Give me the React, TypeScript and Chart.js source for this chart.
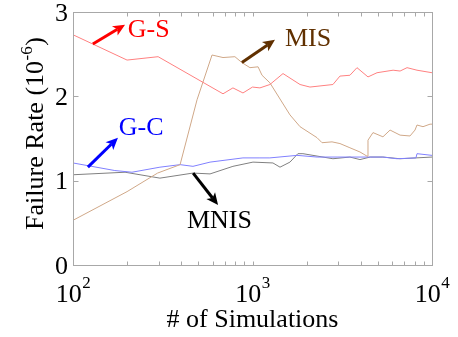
import React, { useEffect, useRef } from "react";
import { Chart, registerables } from "chart.js";

Chart.register(...registerables);

// ---- Data ----
const gsX = [100, 200, 298, 685, 778, 885, 1000, 1100, 1250, 1479, 1840, 2090, 2806, 3070, 3490, 3820, 4400, 4940, 6070, 6640, 7260, 8250, 10000];
const gsY = [2.73, 2.43, 2.47, 2.03, 2.10, 2.04, 2.11, 2.10, 2.14, 2.27, 2.14, 2.11, 2.14, 2.24, 2.25, 2.34, 2.23, 2.28, 2.31, 2.30, 2.34, 2.31, 2.28];

const misX = [100, 200, 296, 395, 491, 595, 685, 798, 873, 968, 1074, 1130, 1250, 1617, 1840, 2288, 2440, 2773, 3070, 3490, 3970, 4350, 4400, 4690, 5330, 5840, 6640, 7540, 8040, 8250, 8910, 9750, 10000];
const misY = [0.53, 0.87, 1.09, 1.19, 1.96, 2.49, 2.46, 2.47, 2.40, 2.34, 2.35, 2.25, 2.16, 1.78, 1.64, 1.51, 1.45, 1.46, 1.44, 1.39, 1.34, 1.29, 1.48, 1.57, 1.52, 1.60, 1.54, 1.53, 1.60, 1.66, 1.64, 1.67, 1.67];

const gcX = [100, 171, 213, 305, 395, 466, 580, 885, 1100, 1250, 1770, 2290, 2960, 3490, 5330, 6380, 8140, 8250, 10000];
const gcY = [1.21, 1.12, 1.10, 1.16, 1.19, 1.17, 1.22, 1.27, 1.27, 1.27, 1.30, 1.28, 1.28, 1.28, 1.28, 1.26, 1.27, 1.32, 1.30];

const mnisX = [100, 195, 305, 466, 580, 778, 1006, 1300, 1423, 1617, 1790, 1910, 2806, 3490, 3970, 4520, 5330, 6640, 10000];
const mnisY = [1.07, 1.10, 1.03, 1.09, 1.08, 1.17, 1.22, 1.21, 1.16, 1.22, 1.32, 1.32, 1.26, 1.28, 1.25, 1.28, 1.28, 1.26, 1.28];

const seriesNames = ["G-S", "MIS", "G-C", "MNIS"];
const lineColors = ["#ff8080", "#d0a888", "#8080ff", "#808080"];
const labelColors = ["#ff0000", "#603000", "#0000ff", "#000000"];

// annotation text anchors (data coords: left, baseline)
const labelX = [202, 1517, 180, 431];
const labelY = [2.70, 2.60, 1.54, 0.44];
// arrows (data coords)
const arrowFromX = [129, 873, 121, 467];
const arrowFromY = [2.62, 2.40, 1.16, 1.09];
const arrowToX = [195, 1334, 178, 643];
const arrowToY = [2.85, 2.67, 1.51, 0.71];

const yTicks = [0, 1, 2, 3];
const xMajor = [100, 1000, 10000];
const xMajorExp = ["2", "3", "4"];
const xMinor = [200, 300, 400, 500, 600, 700, 800, 900, 2000, 3000, 4000, 5000, 6000, 7000, 8000, 9000];

const xTitle = "# of Simulations";
const yTitleMain = "Failure Rate (10";
const yTitleSup = "-6";
const yTitleEnd = ")";

const FONT = '"Liberation Serif"';

function toPts(xs: number[], ys: number[]) {
  return xs.map((x, i) => ({ x, y: ys[i] }));
}

const decorPlugin = {
  id: "decor",
  afterDraw(chart: any) {
    const ctx = chart.ctx as CanvasRenderingContext2D;
    const xs = chart.scales.x;
    const ys = chart.scales.y;
    const a = chart.chartArea;
    const L = Math.round(a.left) + 0.5;
    const R = Math.round(a.right) + 0.5;
    const T = Math.round(a.top) + 0.5;
    const B = Math.round(a.bottom) + 0.5;
    ctx.save();
    // frame
    ctx.strokeStyle = "#a8a8a8";
    ctx.lineWidth = 1;
    ctx.strokeRect(L, T, R - L, B - T);
    // x ticks
    ctx.beginPath();
    [...xMajor, ...xMinor].forEach((v) => {
      const px = Math.round(xs.getPixelForValue(v)) + 0.5;
      ctx.moveTo(px, B);
      ctx.lineTo(px, B - 4);
      ctx.moveTo(px, T);
      ctx.lineTo(px, T + 4);
    });
    yTicks.forEach((v) => {
      const py = Math.round(ys.getPixelForValue(v)) + 0.5;
      ctx.moveTo(L, py);
      ctx.lineTo(L + 5, py);
      ctx.moveTo(R, py);
      ctx.lineTo(R - 5, py);
    });
    ctx.stroke();

    ctx.fillStyle = "#000";
    // y tick labels
    ctx.font = `26px ${FONT}`;
    ctx.textAlign = "right";
    ctx.textBaseline = "middle";
    yTicks.forEach((v) => {
      const py = ys.getPixelForValue(v);
      ctx.fillText(String(v), a.left - 5, py + 2);
    });
    // x tick labels 10^n
    ctx.textBaseline = "alphabetic";
    ctx.textAlign = "left";
    xMajor.forEach((v, i) => {
      const px = xs.getPixelForValue(v);
      ctx.font = `26px ${FONT}`;
      const w1 = ctx.measureText("10").width;
      ctx.font = `17px ${FONT}`;
      const w2 = ctx.measureText(xMajorExp[i]).width;
      const x0 = px - (w1 + w2) / 2;
      ctx.font = `26px ${FONT}`;
      ctx.fillText("10", x0, 302);
      ctx.font = `17px ${FONT}`;
      ctx.fillText(xMajorExp[i], x0 + w1 + 0.5, 288);
    });
    // x title
    ctx.font = `26px ${FONT}`;
    ctx.textAlign = "center";
    ctx.fillText(xTitle, (a.left + a.right) / 2, 327);
    // y title
    ctx.save();
    ctx.translate(43, 134);
    ctx.rotate(-Math.PI / 2);
    ctx.textAlign = "left";
    ctx.font = `26px ${FONT}`;
    const m1 = ctx.measureText(yTitleMain).width;
    const m3 = ctx.measureText(yTitleEnd).width;
    ctx.font = `17px ${FONT}`;
    const m2 = ctx.measureText(yTitleSup).width;
    const sx = -(m1 + m2 + m3) / 2;
    ctx.font = `26px ${FONT}`;
    ctx.fillText(yTitleMain, sx, 0);
    ctx.fillText(yTitleEnd, sx + m1 + m2 + 1, 0);
    ctx.font = `17px ${FONT}`;
    ctx.fillText(yTitleSup, sx + m1 + 0.5, -11);
    ctx.restore();

    // annotations
    seriesNames.forEach((name, i) => {
      ctx.fillStyle = labelColors[i];
      ctx.strokeStyle = labelColors[i];
      ctx.font = `26px ${FONT}`;
      ctx.textAlign = "left";
      ctx.textBaseline = "alphabetic";
      ctx.fillText(name, xs.getPixelForValue(labelX[i]), ys.getPixelForValue(labelY[i]));
      const x1 = xs.getPixelForValue(arrowFromX[i]);
      const y1 = ys.getPixelForValue(arrowFromY[i]);
      const x2 = xs.getPixelForValue(arrowToX[i]);
      const y2 = ys.getPixelForValue(arrowToY[i]);
      const ang = Math.atan2(y2 - y1, x2 - x1);
      const hl = 12;
      const hw = 5.5;
      const bx = x2 - hl * Math.cos(ang);
      const by = y2 - hl * Math.sin(ang);
      ctx.lineWidth = 3;
      ctx.lineCap = "butt";
      ctx.beginPath();
      ctx.moveTo(x1, y1);
      ctx.lineTo(bx + 3 * Math.cos(ang), by + 3 * Math.sin(ang));
      ctx.stroke();
      ctx.beginPath();
      ctx.moveTo(x2, y2);
      ctx.lineTo(bx - hw * Math.sin(ang), by + hw * Math.cos(ang));
      ctx.lineTo(bx + 3 * Math.cos(ang), by + 3 * Math.sin(ang));
      ctx.lineTo(bx + hw * Math.sin(ang), by - hw * Math.cos(ang));
      ctx.closePath();
      ctx.fill();
    });
    ctx.restore();
  },
};

export default function App() {
  const ref = useRef<HTMLCanvasElement>(null);
  useEffect(() => {
    if (!ref.current) return;
    const chart = new Chart(ref.current, {
      type: "line",
      data: {
        datasets: [
          { label: seriesNames[0], data: toPts(gsX, gsY), borderColor: lineColors[0] },
          { label: seriesNames[1], data: toPts(misX, misY), borderColor: lineColors[1] },
          { label: seriesNames[2], data: toPts(gcX, gcY), borderColor: lineColors[2] },
          { label: seriesNames[3], data: toPts(mnisX, mnisY), borderColor: lineColors[3] },
        ].map((d) => ({ ...d, borderWidth: 1, pointRadius: 0, tension: 0, fill: false })),
      },
      options: {
        responsive: false,
        animation: false,
        devicePixelRatio: 1,
        layout: { padding: { left: 73, right: 26, top: 12, bottom: 72 } },
        plugins: { legend: { display: false }, tooltip: { enabled: false } },
        scales: {
          x: { type: "logarithmic", min: 100, max: 10000, display: false },
          y: { type: "linear", min: 0, max: 3, display: false },
        },
      },
      plugins: [decorPlugin],
    });
    return () => chart.destroy();
  }, []);
  return (
    <div style={{ position: "fixed", left: 0, top: 0, width: 458, height: 337, background: "#fff" }}>
      <canvas ref={ref} width={458} height={337} />
    </div>
  );
}
